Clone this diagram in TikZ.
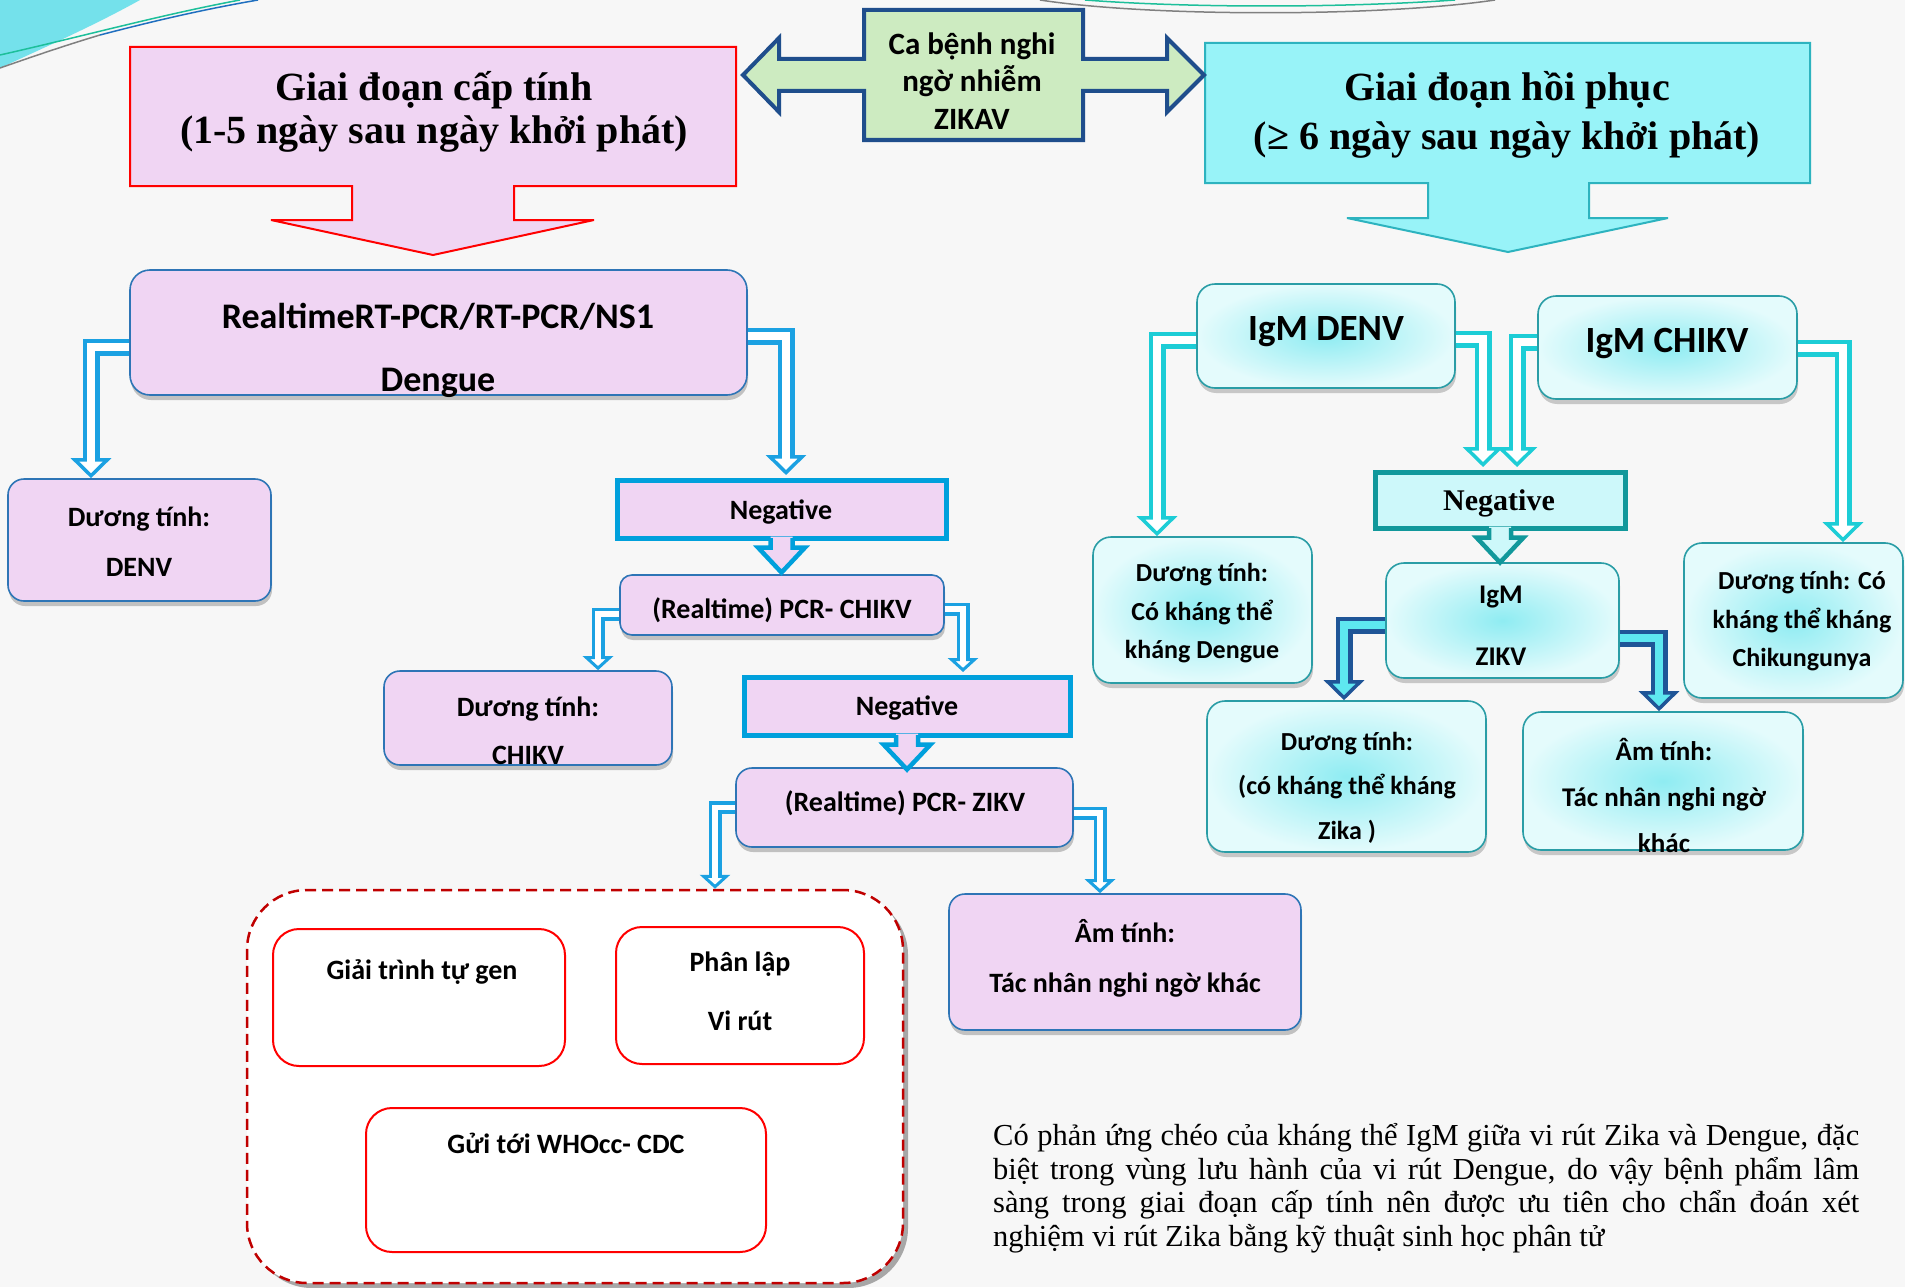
\documentclass[tikz,border=0pt]{standalone}
\usepackage{fontspec}
\setmainfont{Liberation Serif}
\newfontfamily\calibri{Carlito}
\usetikzlibrary{arrows.meta,shadows}
\definecolor{pinkf}{HTML}{F0D5F3}
\definecolor{boxblue}{HTML}{2E75B6}
\definecolor{negblue}{HTML}{00A0DC}
\definecolor{connblue}{HTML}{1BA1E2}
\definecolor{turq}{HTML}{1DCDD6}
\definecolor{dkblue}{HTML}{1F5597}
\definecolor{zcyan}{HTML}{5EE7F0}
\definecolor{cyanA}{HTML}{8FECF2}
\definecolor{cyanB}{HTML}{E4FBFC}
\definecolor{tealb}{HTML}{2A9DA6}
\definecolor{negteal}{HTML}{11989B}
\definecolor{negcyan}{HTML}{CDF8FA}
\definecolor{titlecyan}{HTML}{98F3F8}
\definecolor{titlecyanb}{HTML}{2DB3BF}
\definecolor{greenf}{HTML}{CDEBC1}
\definecolor{greenb}{HTML}{1F4E8C}
\definecolor{dred}{HTML}{C00000}
\definecolor{bg}{HTML}{F7F7F7}
\definecolor{decocyan}{HTML}{74E1EB}
\definecolor{decogreen}{HTML}{1DBF9A}
\definecolor{decoblue}{HTML}{1F6FBF}
\newcommand\fs[2]{\fontsize{#1pt}{#2pt}\selectfont}
\newcommand\negarr[3]{%
  \fill[#2] ([xshift=-11pt,yshift=4pt]#1.south) -- ++(0,11) -- ++(-12.5,0) -- ++(23.5,25) -- ++(23.5,-25) -- ++(-12.5,0) -- ++(0,-11) -- cycle;
  \draw[#3, line width=4.5pt, line join=miter] ([xshift=-11pt,yshift=2.5pt]#1.south) -- ++(0,9.5) -- ++(-12.5,0) -- ++(23.5,25) -- ++(23.5,-25) -- ++(-12.5,0) -- ++(0,-9.5);}
\tikzset{
  sz/.style 2 args={minimum width=#1pt, minimum height=#2pt},
  pbox/.style={draw=boxblue, line width=1.6pt, fill=pinkf, rounded corners=16pt, inner sep=0pt,
    drop shadow={shadow xshift=1pt, shadow yshift=-5pt, opacity=.45}},
  nbox/.style={draw=negblue, line width=5pt, fill=pinkf, inner sep=0pt},
  cbox/.style={draw=tealb, line width=1.6pt, rounded corners=18pt, inner sep=0pt,
    shading=radial, inner color=cyanA, outer color=cyanB,
    drop shadow={shadow xshift=1pt, shadow yshift=-5pt, opacity=.4}},
  rbox/.style={draw=red, line width=2pt, fill=white, rounded corners=26pt, inner sep=0pt},
  lab/.style 2 args={inner sep=0pt, align=center, font=\calibri\bfseries\fs{#1}{#2}},
  connA/.style={draw=#1, line width=17pt, line join=miter,
    -{Triangle[fill=white, line width=3.5pt, length=20pt, width=40pt]},
    postaction={draw=white, line width=8pt, arrows=-, shorten >=10pt}},
  connB/.style={draw=connblue, line width=13pt, line join=miter,
    -{Triangle[fill=white, line width=3pt, length=14pt, width=30pt]},
    postaction={draw=white, line width=5.5pt, arrows=-, shorten >=7pt}},
  connZ/.style={draw=dkblue, line width=17pt, line join=miter,
    -{Triangle[fill=zcyan, line width=3.5pt, length=20pt, width=40pt]},
    postaction={draw=zcyan, line width=8pt, arrows=-, shorten >=10pt}},
}
\begin{document}
\begin{tikzpicture}[x=1pt,y=-1pt]
\useasboundingbox (0,0) rectangle (1905,1287);
\fill[bg] (0,0) rectangle (1905,1287);
% decorations
\fill[decocyan] (0,0) -- (140,0) .. controls (95,25) and (50,45) .. (0,68) -- cycle;
\draw[decogreen, line width=1.5pt] (0,55) .. controls (80,37) and (160,15) .. (240,0);
\draw[gray, line width=1.5pt] (0,68) .. controls (40,54) and (70,44) .. (100,35);
\draw[decoblue, line width=1.5pt] (100,35) .. controls (150,22) and (200,10) .. (258,0);
\draw[gray, line width=1.5pt] (1040,0) .. controls (1150,17) and (1380,17) .. (1495,0);
\draw[decogreen, line width=1.5pt] (1085,0) .. controls (1190,8) and (1340,8) .. (1455,0);
% title callouts
\draw[fill=pinkf, draw=red, line width=2pt, miter limit=2] (130,47) -- (736,47) -- (736,186) -- (514,186) -- (514,220) -- (594,220) -- (433,255) -- (271,220) -- (352,220) -- (352,186) -- (130,186) -- cycle;
\draw[fill=titlecyan, draw=titlecyanb, line width=2pt, miter limit=2] (1205,43) -- (1810,43) -- (1810,183) -- (1589,183) -- (1589,218) -- (1668,218) -- (1508,252) -- (1347,218) -- (1428,218) -- (1428,183) -- (1205,183) -- cycle;
\draw[fill=greenf, draw=greenb, line width=4pt, line join=miter] (864,10) -- (1083,10) -- (1083,59) -- (1167,59) -- (1167,38) -- (1204,75) -- (1167,112) -- (1167,91) -- (1083,91) -- (1083,140) -- (864,140) -- (864,91) -- (779,91) -- (779,112) -- (743,75) -- (779,38) -- (779,59) -- (864,59) -- cycle;
% left side boxes
\node[pbox, sz={617}{125}, rounded corners=20pt] (rt) at (438.5,332.5) {};
\node[pbox, sz={263}{122}] (denv) at (139.5,540) {};
\node[nbox, sz={329}{58}] (neg1) at (781.5,509) {};
\node[pbox, sz={324}{60}, rounded corners=12pt] (chikpcr) at (782,605) {};
\node[pbox, sz={288}{94}] (chikv) at (528,718) {};
\node[nbox, sz={326}{58}] (neg2) at (907,706) {};
\node[pbox, sz={337}{79}] (zikpcr) at (904.5,807.5) {};
\node[pbox, sz={352}{136}] (am1) at (1125,962) {};
\node[draw=dred, line width=2.5pt, dash pattern=on 11pt off 6pt, fill=white, rounded corners=60pt, sz={656}{393},
  drop shadow={shadow xshift=5pt, shadow yshift=-5pt, opacity=.6, fill=black!55}] (cont) at (575,1086.5) {};
\node[rbox, sz={292}{137}] (seq) at (419,997.5) {};
\node[rbox, sz={248}{137}] (iso) at (740,995.5) {};
\node[rbox, sz={400}{144}] (who) at (566,1180) {};
% right side boxes
\node[cbox, sz={258}{104}] (igmd) at (1326,336) {};
\node[cbox, sz={259}{103}] (igmc) at (1667.5,347.5) {};
\node[draw=negteal, line width=5pt, fill=negcyan, inner sep=0pt, sz={250}{56}] (negr) at (1500,500) {};
\node[cbox, sz={219}{146}] (dden) at (1202.5,610) {};
\node[cbox, sz={233}{115}] (igmz) at (1502.5,620.5) {};
\node[cbox, sz={219}{155}] (dchik) at (1793.5,620.5) {};
\node[cbox, sz={279}{151}] (dzika) at (1346.5,776.5) {};
\node[cbox, sz={280}{138}] (am2) at (1663,781) {};
% block arrows below Negative boxes
\negarr{neg1}{pinkf}{negblue}
\negarr{neg2}{pinkf}{negblue}
\negarr{negr}{negcyan}{negteal}
% connectors
\draw[connA=connblue] ([yshift=-14.5pt]rt.west) -| ([xshift=-48.5pt]denv.north);
\draw[connA=connblue] ([yshift=-3.5pt]rt.east) -| ([xshift=4.5pt,yshift=2.5pt]neg1.north);
\draw[connB] ([yshift=-9pt]chikpcr.west) -| ([xshift=70pt]chikv.north);
\draw[connB] ([yshift=-4pt]chikpcr.east) -| ([xshift=56pt,yshift=2.5pt]neg2.north);
\draw[connB] (zikpcr.west) -| ([xshift=140pt]cont.north);
\draw[connB] ([yshift=-5.5pt]zikpcr.east) -| ([xshift=-25pt]am1.north);
\draw[connA=turq] ([yshift=-4pt]igmd.west) -| ([xshift=-45.5pt]dden.north);
\draw[connA=turq] ([yshift=-3pt]igmd.east) -| ([xshift=-17pt,yshift=2.5pt]negr.north);
\draw[connA=turq] ([yshift=5.5pt]igmc.west) -| ([xshift=17pt,yshift=2.5pt]negr.north);
\draw[connA=turq] ([yshift=-0.5pt]igmc.east) -| ([xshift=49.5pt]dchik.north);
\draw[connZ] ([yshift=-4.5pt]igmz.west) -| ([xshift=-2.5pt]dzika.north);
\draw[connZ] ([yshift=-17.5pt]igmz.east) -| ([xshift=-4pt]am2.north);
% texts
\node[inner sep=0pt, align=center, font=\bfseries\fs{40}{43}] (tL) at (434,111.5) {Giai đoạn cấp tính\\(1-5 ngày sau ngày khởi phát)};
\node[inner sep=0pt, align=center, font=\bfseries\fs{40}{49}] (tR) at (1507,115) {Giai đoạn hồi phục\\(≥ 6 ngày sau ngày khởi phát)};
\node[lab={31}{37.5}] (tC) at (972,81) {Ca bệnh nghi\\ngờ nhiễm\\ZIKAV};
\node[lab={36}{63}] (t-rt) at (438,350.5) {RealtimeRT-PCR/RT-PCR/NS1\\Dengue};
\node[lab={28}{50}] (t-denv) at (139,542) {Dương tính:\\DENV};
\node[lab={28}{34}] (t-neg1) at (781,512) {Negative};
\node[lab={28}{34}] (t-chikpcr) at (782,610) {(Realtime) PCR- CHIKV};
\node[lab={28}{48}] (t-chikv) at (528,731) {Dương tính:\\CHIKV};
\node[lab={28}{34}] (t-neg2) at (907,708) {Negative};
\node[lab={28}{34}] (t-zikpcr) at (905,803) {(Realtime) PCR- ZIKV};
\node[lab={28}{50}] (t-am1) at (1125,958) {Âm tính:\\Tác nhân nghi ngờ khác};
\node[lab={28}{34}] (t-seq) at (422,972) {Giải trình tự gen};
\node[lab={28}{59}] (t-iso) at (740,991.5) {Phân lập\\Vi rút};
\node[lab={28}{34}] (t-who) at (566,1143) {Gửi tới WHOcc- CDC};
\node[lab={37}{40}] (t-igmd) at (1326,332) {IgM DENV};
\node[lab={37}{40}] (t-igmc) at (1667,343) {IgM CHIKV};
\node[inner sep=0pt, font=\bfseries\fs{30}{34}] (t-negr) at (1499,503) {Negative};
\node[lab={26}{38.5}] (t-dden) at (1202,613.5) {Dương tính:\\Có kháng thể\\kháng Dengue};
\node[lab={27}{62}] (t-igmz) at (1501,626) {IgM\\ZIKV};
\node[lab={26}{38.5}] (t-dchik) at (1802,621.5) {Dương tính: Có\\kháng thể kháng\\Chikungunya};
\node[lab={26}{44.5}] (t-dzika) at (1347,787.5) {Dương tính:\\(có kháng thể kháng\\Zika )};
\node[lab={27}{46}] (t-am2) at (1664,795) {Âm tính:\\Tác nhân nghi ngờ\\khác};
\node[anchor=north west, inner sep=0pt, align=left, font=\fs{30.5}{33.7}] (note) at (993,1123) {\makebox[866pt][s]{Có phản ứng chéo của kháng thể IgM giữa vi rút Zika và Dengue, đặc}\\\makebox[866pt][s]{biệt trong vùng lưu hành của vi rút Dengue, do vậy bệnh phẩm lâm}\\\makebox[866pt][s]{sàng trong giai đoạn cấp tính nên được ưu tiên cho chẩn đoán xét}\\nghiệm vi rút Zika bằng kỹ thuật sinh học phân tử};
\end{tikzpicture}
\end{document}
